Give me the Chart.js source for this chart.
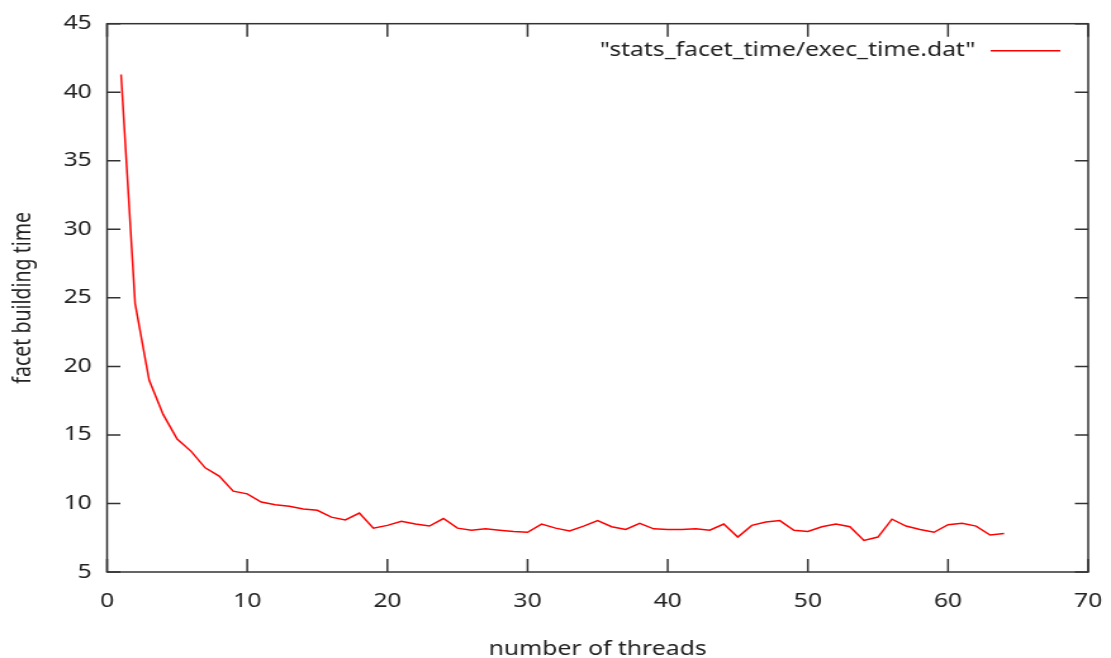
<!DOCTYPE html>
<html lang="en">
<head>
<meta charset="UTF-8">
<title>facet building time</title>
<script src="https://cdn.jsdelivr.net/npm/chart.js"></script>
<style>
  html, body { margin: 0; padding: 0; background: #fff; overflow: hidden; }
</style>
</head>
<body>
<!-- the plot was drawn at 4:3 and stretched wide, so draw narrow and stretch -->
<canvas id="chart" width="877" height="658" style="display:block; width:1111px; height:658px;"></canvas>
<script>
// data
const threads = [1, 2, 3, 4, 5, 6, 7, 8, 9, 10, 11, 12, 13, 14, 15, 16, 17, 18, 19, 20,
  21, 22, 23, 24, 25, 26, 27, 28, 29, 30, 31, 32, 33, 34, 35, 36, 37, 38, 39, 40,
  41, 42, 43, 44, 45, 46, 47, 48, 49, 50, 51, 52, 53, 54, 55, 56, 57, 58, 59, 60,
  61, 62, 63, 64];
const execTime = [41.3, 24.6, 19.0, 16.5, 14.7, 13.8, 12.6, 12.0, 10.9, 10.7,
  10.1, 9.9, 9.8, 9.6, 9.5, 9.0, 8.8, 9.3, 8.2, 8.4,
  8.7, 8.5, 8.35, 8.9, 8.2, 8.05, 8.15, 8.05, 7.95, 7.9,
  8.5, 8.2, 8.0, 8.35, 8.75, 8.3, 8.1, 8.55, 8.15, 8.1,
  8.1, 8.15, 8.05, 8.5, 7.55, 8.4, 8.65, 8.75, 8.05, 7.95,
  8.3, 8.5, 8.3, 7.3, 7.55, 8.85, 8.35, 8.1, 7.9, 8.45,
  8.55, 8.35, 7.7, 7.8];
const seriesLabel = '"stats_facet_time/exec_time.dat"';
const xTicks = [0, 10, 20, 30, 40, 50, 60, 70];
const yTicks = [5, 10, 15, 20, 25, 30, 35, 40, 45];

const FONT = "'Noto Sans', 'DejaVu Sans', sans-serif";
const FONT_SIZE = 19.5;
const AXIS_COLOR = "#333";

// gnuplot-like frame with inward ticks on all four sides, plus key
const framePlugin = {
  id: "frame",
  afterDraw(chart) {
    const ctx = chart.ctx;
    const a = chart.chartArea;
    const xs = chart.scales.x;
    const ys = chart.scales.y;
    ctx.save();
    ctx.strokeStyle = AXIS_COLOR;
    ctx.lineWidth = 1.5;
    ctx.strokeRect(a.left, a.top, a.right - a.left, a.bottom - a.top);
    ctx.beginPath();
    xTicks.forEach(v => {
      const px = xs.getPixelForValue(v);
      ctx.moveTo(px, a.bottom); ctx.lineTo(px, a.bottom - 13);
      ctx.moveTo(px, a.top); ctx.lineTo(px, a.top + 13);
    });
    yTicks.forEach(v => {
      const py = ys.getPixelForValue(v);
      ctx.moveTo(a.left, py); ctx.lineTo(a.left + 10.5, py);
      ctx.moveTo(a.right, py); ctx.lineTo(a.right - 10.5, py);
    });
    ctx.stroke();

    // key
    const ds = chart.data.datasets[0];
    const ky = a.top + 27;
    ctx.font = FONT_SIZE + "px " + FONT;
    ctx.fillStyle = "#222";
    ctx.textAlign = "right";
    ctx.textBaseline = "middle";
    ctx.fillText(ds.label, 770, ky);
    ctx.strokeStyle = ds.borderColor;
    ctx.lineWidth = ds.borderWidth;
    ctx.beginPath();
    ctx.moveTo(782, ky);
    ctx.lineTo(837, ky);
    ctx.stroke();
    ctx.restore();
  }
};

new Chart(document.getElementById("chart"), {
  type: "line",
  data: {
    labels: threads,
    datasets: [{
      label: seriesLabel,
      data: threads.map((t, i) => ({ x: t, y: execTime[i] })),
      borderColor: "rgb(255, 0, 0)",
      borderWidth: 1.5,
      pointRadius: 0,
      tension: 0,
      fill: false
    }]
  },
  options: {
    responsive: false,
    animation: false,
    layout: { padding: { top: 20, right: 18, left: 0, bottom: 0 } },
    plugins: {
      legend: { display: false },
      tooltip: { enabled: false }
    },
    scales: {
      x: {
        type: "linear",
        min: 0,
        max: 70,
        afterBuildTicks(scale) { scale.ticks = xTicks.map(v => ({ value: v })); },
        afterFit(scale) {
          scale.height = 86;
          scale.paddingLeft = 0;
          scale.paddingRight = 0;
        },
        grid: { display: false, drawTicks: false },
        border: { display: false },
        ticks: { color: "#222", font: { family: FONT, size: FONT_SIZE }, padding: 18, maxRotation: 0 },
        title: {
          display: true,
          text: "number of threads",
          color: "#222",
          font: { family: FONT, size: FONT_SIZE },
          padding: { top: 0, bottom: -3 }
        }
      },
      y: {
        min: 5,
        max: 45,
        afterBuildTicks(scale) { scale.ticks = yTicks.map(v => ({ value: v })); },
        afterFit(scale) { scale.width = 84.5; },
        grid: { display: false, drawTicks: false },
        border: { display: false },
        ticks: { color: "#222", font: { family: FONT, size: FONT_SIZE }, padding: 12 },
        title: {
          display: true,
          text: "facet building time",
          color: "#222",
          font: { family: FONT, size: FONT_SIZE },
          padding: { top: 7, bottom: 0 }
        }
      }
    }
  },
  plugins: [framePlugin]
});
</script>
</body>
</html>
